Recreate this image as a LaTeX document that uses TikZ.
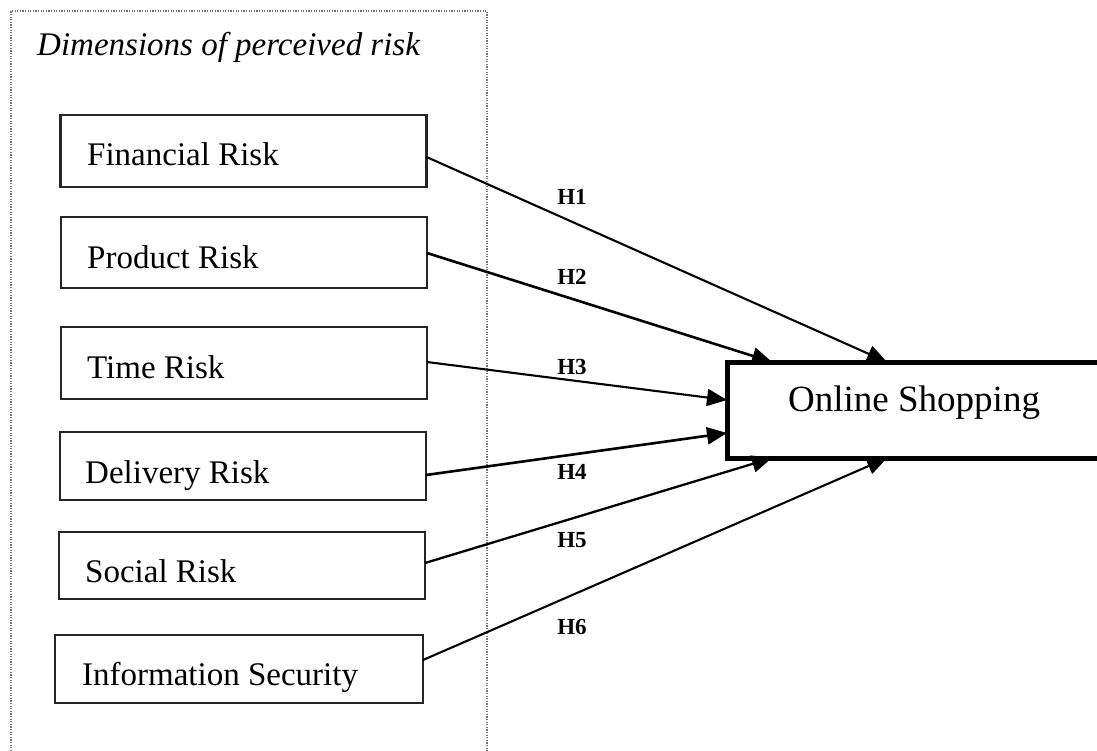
\documentclass[tikz,border=0pt]{standalone}
\usepackage{fontspec}
\setmainfont{Liberation Serif}
\usetikzlibrary{arrows.meta,calc}
\begin{document}
\begin{tikzpicture}[x=1pt,y=-1pt,
  riskbox/.style={draw=black!85,line width=2.4pt,inner sep=0,outer sep=0,minimum width=366pt},
  risktext/.style={anchor=base west,inner sep=0,font=\fontsize{33}{40}\selectfont},
  hlabel/.style={inner sep=0,font=\fontsize{23}{27}\selectfont\bfseries},
  link/.style={line width=2.1pt,-{Triangle[length=20pt,width=17pt]}},
  framebox/.style={draw=black!55,line width=1.5pt,dash pattern=on 1.3pt off 1.3pt}]
\useasboundingbox (0,0) rectangle (1097,750);
\clip (0,0) rectangle (1097,750);
% dotted frame
\coordinate (ftl) at (11,11);
\coordinate (ftr) at (487,11);
\coordinate (fbl) at (11,790);
\coordinate (fbr) at (487,790);
\draw[framebox] (fbl) -- (ftl) -- (ftr) -- (fbr);
\node[anchor=base west,inner sep=0,font=\fontsize{33}{40}\selectfont\itshape] (title) at (37,55) {Dimensions of perceived risk};
% risk boxes
\node[riskbox,minimum height=72pt] (fin) at (243.5,151) {};
\node[riskbox,minimum height=71pt] (prod) at (244,252.5) {};
\node[riskbox,minimum height=72pt] (time) at (244,363) {};
\node[riskbox,minimum height=68pt] (deliv) at (243,466) {};
\node[riskbox,minimum height=67pt] (soc) at (242,565.5) {};
\node[riskbox,minimum height=68pt,minimum width=368pt] (info) at (239,669) {};
\node[risktext] (fint) at (87,165) {Financial Risk};
\node[risktext] (prodt) at (87,268) {Product Risk};
\node[risktext] (timet) at (87,378) {Time Risk};
\node[risktext] (delivt) at (85,483) {Delivery Risk};
\node[risktext] (soct) at (85,582) {Social Risk};
\node[risktext] (infot) at (82,685) {Information Security};
% target
\node[draw,line width=5pt,inner sep=0,outer sep=0,minimum width=375pt,minimum height=96pt] (os) at (914.5,410) {};
\node[anchor=base west,inner sep=0,font=\fontsize{37}{44}\selectfont] (ost) at (788,411) {Online Shopping};
% connectors
\draw[link] ([yshift=-6pt]fin.east) -- ([xshift=160pt]os.north west);
\draw[link,line width=2.6pt] ([yshift=-0.5pt]prod.east) -- ([xshift=45pt]os.north west);
\draw[link] ([yshift=1pt]time.east) -- ([yshift=10pt]os.west);
\draw[link,line width=2.6pt] ([yshift=-9pt]deliv.east) -- ([yshift=-23pt]os.west);
\draw[link,line width=2.3pt] ([yshift=2.5pt]soc.east) -- ([xshift=45pt]os.south west);
\draw[link] ([yshift=9pt]info.east) -- ([xshift=160pt]os.south west);
% labels
\node[hlabel] (h1) at (572,197) {H1};
\node[hlabel] (h2) at (572,277) {H2};
\node[hlabel] (h3) at (572,367) {H3};
\node[hlabel] (h4) at (572,472) {H4};
\node[hlabel] (h5) at (572,540) {H5};
\node[hlabel] (h6) at (572,627) {H6};
\end{tikzpicture}
\end{document}
